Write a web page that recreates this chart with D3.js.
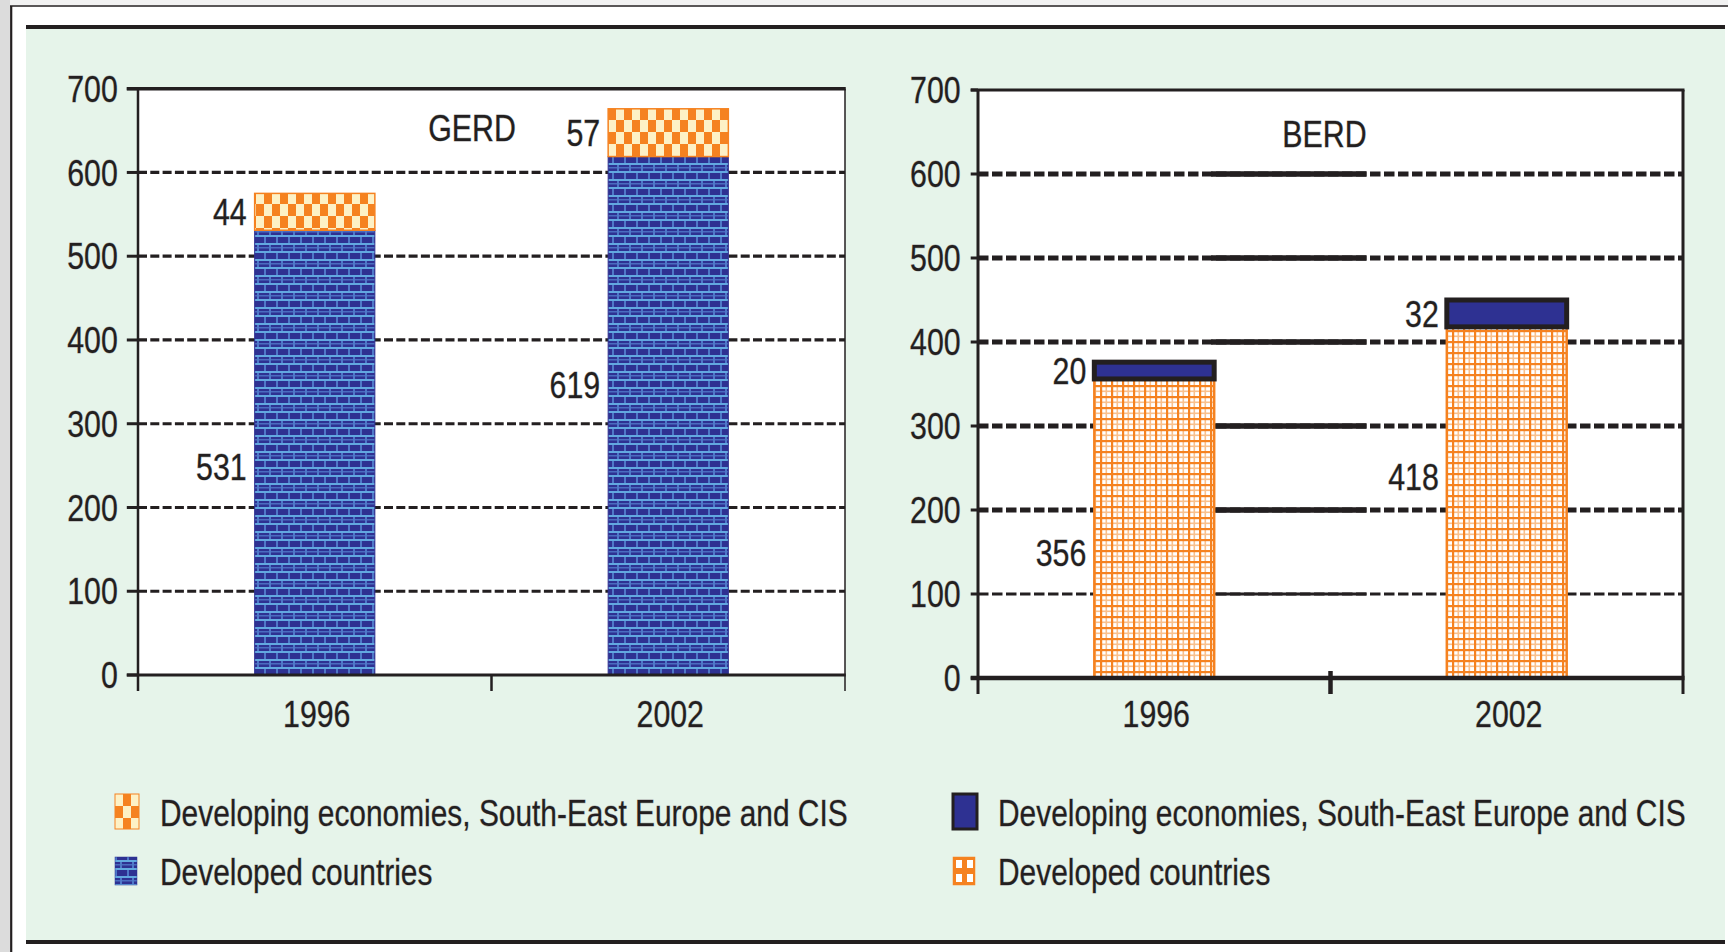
<!DOCTYPE html>
<html>
<head>
<meta charset="utf-8">
<script src="https://cdn.jsdelivr.net/npm/d3@7/dist/d3.min.js"></script>
<style>
  html, body { margin: 0; padding: 0; background: #ffffff; }
  svg { display: block; }
  text { font-family: "Liberation Sans", Arial, sans-serif; fill: #231f20; stroke: #a8a8a8; stroke-width: 0.8; paint-order: stroke; }
</style>
</head>
<body>
<svg id="chart" width="1728" height="952"></svg>
<script>
// ---------------- data ----------------
const categories = ["1996", "2002"];
const gerdDeveloped = [531, 619];
const gerdDeveloping = [44, 57];
const berdDeveloped = [356, 418];
const berdDeveloping = [20, 32];
const yTickValues = [0, 100, 200, 300, 400, 500, 600, 700];
const panelTitles = ["GERD", "BERD"];
const legendLabels = ["Developing economies, South-East Europe and CIS", "Developed countries"];

// label anchors for the developed-countries values (in data units)
const gerdDevLabelAt = [249, 346];
const berdDevLabelAt = [149, 240];

// ---------------- layout ----------------
const W = 1728, H = 952;
const SX = 0.82;       // narrow-font emulation
const FS = 37;
const INK = "#231f20";
const NAVY = "#2e3192";
const ORANGE = "#f58220";

const svg = d3.select("#chart");

// patterns
const defs = svg.append("defs");
// brick pattern (GERD developed)
const pb = defs.append("pattern").attr("id", "brick").attr("patternUnits", "userSpaceOnUse")
  .attr("width", 12).attr("height", 16);
pb.append("rect").attr("width", 12).attr("height", 16).attr("fill", NAVY);
pb.append("rect").attr("x", 0).attr("y", 3).attr("width", 12).attr("height", 2).attr("fill", "#62a8e0");
pb.append("rect").attr("x", 0).attr("y", 11).attr("width", 12).attr("height", 2).attr("fill", "#62a8e0");
pb.append("rect").attr("x", 0).attr("y", 7).attr("width", 12).attr("height", 1.5).attr("fill", "#4a6cc0");
pb.append("rect").attr("x", 5).attr("y", 5).attr("width", 2).attr("height", 6).attr("fill", "#4f78c8");
pb.append("rect").attr("x", 0).attr("y", 13).attr("width", 2).attr("height", 3).attr("fill", "#4f78c8");
pb.append("rect").attr("x", 0).attr("y", 0).attr("width", 2).attr("height", 3).attr("fill", "#4f78c8");
// checker pattern (GERD developing)
const pc = defs.append("pattern").attr("id", "checker").attr("patternUnits", "userSpaceOnUse")
  .attr("width", 16).attr("height", 24);
pc.append("rect").attr("width", 16).attr("height", 24).attr("fill", ORANGE);
pc.append("rect").attr("x", 0).attr("y", 0).attr("width", 8).attr("height", 12).attr("fill", "#fdf1c6");
pc.append("rect").attr("x", 8).attr("y", 12).attr("width", 8).attr("height", 12).attr("fill", "#fdf1c6");
// orange grid pattern (BERD developed)
const pg = defs.append("pattern").attr("id", "ogrid").attr("patternUnits", "userSpaceOnUse")
  .attr("width", 22).attr("height", 22);
pg.append("rect").attr("width", 22).attr("height", 22).attr("fill", "#ffffff");
pg.append("rect").attr("x", 5.5).attr("y", 0).attr("width", 1.6).attr("height", 22).attr("fill", "#f9c08c");
pg.append("rect").attr("x", 16.5).attr("y", 0).attr("width", 1.6).attr("height", 22).attr("fill", "#f9c08c");
pg.append("rect").attr("x", 0).attr("y", 5.5).attr("width", 22).attr("height", 1.6).attr("fill", "#f9c08c");
pg.append("rect").attr("x", 0).attr("y", 16.5).attr("width", 22).attr("height", 1.6).attr("fill", "#f9c08c");
pg.append("rect").attr("x", 0).attr("y", 0).attr("width", 2.2).attr("height", 22).attr("fill", ORANGE);
pg.append("rect").attr("x", 11).attr("y", 0).attr("width", 2.2).attr("height", 22).attr("fill", ORANGE);
pg.append("rect").attr("x", 0).attr("y", 0).attr("width", 22).attr("height", 2.2).attr("fill", ORANGE);
pg.append("rect").attr("x", 0).attr("y", 11).attr("width", 22).attr("height", 2.2).attr("fill", ORANGE);
// small orange/white legend pattern
const pl = defs.append("pattern").attr("id", "olegend").attr("patternUnits", "userSpaceOnUse")
  .attr("width", 11).attr("height", 14);
pl.append("rect").attr("width", 11).attr("height", 14).attr("fill", ORANGE);
pl.append("rect").attr("x", 3).attr("y", 3).attr("width", 6).attr("height", 8).attr("fill", "#ffffff");

// ---------------- page frame ----------------
svg.append("rect").attr("width", W).attr("height", H).attr("fill", "#ffffff");
svg.append("rect").attr("x", 0).attr("y", 0).attr("width", W).attr("height", 5).attr("fill", "#f2f2f2");
svg.append("rect").attr("x", 0).attr("y", 0).attr("width", 10).attr("height", H).attr("fill", "#dcdcdc");
svg.append("line").attr("x1", 10).attr("x2", W).attr("y1", 6).attr("y2", 6).attr("stroke", INK).attr("stroke-width", 1.6);
svg.append("line").attr("x1", 11.2).attr("x2", 11.2).attr("y1", 6).attr("y2", H).attr("stroke", INK).attr("stroke-width", 2.2);
svg.append("rect").attr("x", 26).attr("y", 27).attr("width", 1699).attr("height", 915).attr("fill", "#e6f4ea");
svg.append("line").attr("x1", 26).attr("x2", 1725).attr("y1", 27).attr("y2", 27).attr("stroke", INK).attr("stroke-width", 4);
svg.append("line").attr("x1", 26).attr("x2", 1725).attr("y1", 942).attr("y2", 942).attr("stroke", INK).attr("stroke-width", 4);

function txt(g, x, y, s, anchor, size, sx) {
  return g.append("text")
    .attr("transform", `translate(${x},${y}) scale(${sx || SX},1)`)
    .attr("text-anchor", anchor)
    .attr("font-size", size || FS)
    .text(s);
}

// ---------------- panels ----------------
const panels = [
  {
    title: panelTitles[0], developed: gerdDeveloped, developing: gerdDeveloping, devLabelAt: gerdDevLabelAt,
    x0: 138, x1: 845, y0: 675, y1: 88.7, titleX: 472, titleY: 140.5,
    devFill: "url(#brick)", devStroke: NAVY, devStrokeW: 1,
    dvgFill: "url(#checker)", dvgStroke: ORANGE, dvgStrokeW: 1.5,
    gridW: d => 3.2, dash: "9,3.3", solidSeg: false,
    tickLabelRight: 117.8, tickLeft: 126.8, axisW: 2.5, bottomW: 3, topW: 3.5, rightW: 1.5, midTickW: 2.5, midTickTop: 675,
    legendX: 115, legendTextX: 160,
    legendSw: ["url(#checker)", "url(#brick)"], legendSwStroke: [ORANGE, NAVY], legendSwStrokeW: [1, 0.5]
  },
  {
    title: panelTitles[1], developed: berdDeveloped, developing: berdDeveloping, devLabelAt: berdDevLabelAt,
    x0: 978, x1: 1683, y0: 678, y1: 90, titleX: 1324.5, titleY: 146.5,
    devFill: "url(#ogrid)", devStroke: ORANGE, devStrokeW: 2.5,
    dvgFill: NAVY, dvgStroke: INK, dvgStrokeW: 5,
    gridW: d => (d === 100 ? 3 : 5), dash: "10.5,3.5", solidSeg: true,
    tickLabelRight: 960.7, tickLeft: 970.7, axisW: 3, bottomW: 4.5, topW: 3, rightW: 3, midTickW: 4.5, midTickTop: 671,
    legendX: 953, legendTextX: 998,
    legendSw: [NAVY, "url(#olegend)"], legendSwStroke: [INK, ORANGE], legendSwStrokeW: [3, 0.5]
  }
];

panels.forEach(p => {
  const g = svg.append("g");
  const y = d3.scaleLinear().domain([0, 700]).range([p.y0, p.y1]);
  const x = d3.scaleBand().domain(categories).range([p.x0, p.x1]).paddingInner(0.66).paddingOuter(0.33);
  const step = x.step();
  const bw = x.bandwidth();

  // plot background
  g.append("rect").attr("x", p.x0).attr("y", y(700)).attr("width", p.x1 - p.x0).attr("height", y(0) - y(700))
    .attr("fill", "#ffffff");

  // gridlines (dashed)
  const grid = yTickValues.filter(v => v > 0 && v < 700);
  g.selectAll(".grid").data(grid).enter().append("line")
    .attr("x1", p.x0).attr("x2", p.x1)
    .attr("y1", d => y(d)).attr("y2", d => y(d))
    .attr("stroke", INK).attr("stroke-width", d => p.gridW(d))
    .attr("stroke-dasharray", p.dash);

  // BERD solid gridline segments between the bars
  if (p.solidSeg) {
    const sx1 = x(categories[0]) + bw - 3;
    const sx2 = p.x0 + step + 36;
    g.selectAll(".seg").data(grid).enter().append("line")
      .attr("x1", sx1).attr("x2", sx2)
      .attr("y1", d => y(d)).attr("y2", d => y(d))
      .attr("stroke", INK).attr("stroke-width", d => p.gridW(d) + (d === 100 ? 0 : 0.6));
  }

  // stacked bars
  const stackRows = categories.map((c, i) => ({ cat: c, dev: p.developed[i], dvg: p.developing[i] }));
  const stack = d3.stack().keys(["dev", "dvg"])(stackRows);
  const fills = { dev: p.devFill, dvg: p.dvgFill };
  const strokes = { dev: p.devStroke, dvg: p.dvgStroke };
  const strokeWs = { dev: p.devStrokeW, dvg: p.dvgStrokeW };
  stack.forEach(layer => {
    g.selectAll(".bar-" + layer.key).data(layer).enter().append("rect")
      .attr("x", d => x(d.data.cat))
      .attr("y", d => y(d[1]))
      .attr("width", bw)
      .attr("height", d => y(d[0]) - y(d[1]))
      .attr("fill", fills[layer.key])
      .attr("stroke", strokes[layer.key])
      .attr("stroke-width", strokeWs[layer.key]);
  });

  // frame: top, right
  g.append("line").attr("x1", p.tickLeft).attr("x2", p.x1 + p.rightW / 2).attr("y1", y(700)).attr("y2", y(700))
    .attr("stroke", INK).attr("stroke-width", p.topW);
  g.append("line").attr("x1", p.x1).attr("x2", p.x1).attr("y1", y(700)).attr("y2", y(0) + 16)
    .attr("stroke", INK).attr("stroke-width", p.rightW);

  // y axis line and ticks
  g.append("line").attr("x1", p.x0).attr("x2", p.x0).attr("y1", y(700)).attr("y2", y(0) + 16)
    .attr("stroke", INK).attr("stroke-width", p.axisW);
  g.selectAll(".ytick").data(yTickValues).enter().append("line")
    .attr("x1", p.tickLeft).attr("x2", p.x0)
    .attr("y1", d => y(d)).attr("y2", d => y(d))
    .attr("stroke", INK).attr("stroke-width", 3);
  yTickValues.forEach(v => txt(g, p.tickLabelRight, y(v) + 13.2, String(v), "end"));

  // x axis line and category boundary ticks
  g.append("line").attr("x1", p.tickLeft).attr("x2", p.x1 + p.rightW / 2).attr("y1", y(0)).attr("y2", y(0))
    .attr("stroke", INK).attr("stroke-width", p.bottomW);
  g.append("line").attr("x1", p.x0 + step).attr("x2", p.x0 + step).attr("y1", p.midTickTop).attr("y2", y(0) + 16)
    .attr("stroke", INK).attr("stroke-width", p.midTickW);
  categories.forEach(c => txt(g, x(c) + bw / 2 + 2, 727, c, "middle"));

  // title
  txt(g, p.titleX, p.titleY, p.title, "middle");

  // value labels
  stackRows.forEach((r, i) => {
    const lx = x(r.cat) - 8;
    txt(g, lx, y(r.dev + r.dvg / 2) + 13.2, String(r.dvg), "end");
    txt(g, lx, y(p.devLabelAt[i]) + 13.2, String(r.dev), "end");
  });

  // legend
  const rows = [{ y: 794, h: 35, w: 24, base: 826 }, { y: 857, h: 28, w: 22, base: 885 }];
  legendLabels.forEach((lab, i) => {
    const sg = g.append("g").attr("transform", `translate(${p.legendX},${rows[i].y})`);
    sg.append("rect").attr("x", 0).attr("y", 0).attr("width", rows[i].w).attr("height", rows[i].h)
      .attr("fill", p.legendSw[i]).attr("stroke", p.legendSwStroke[i]).attr("stroke-width", p.legendSwStrokeW[i]);
    txt(g, p.legendTextX, rows[i].base, lab, "start", FS, SX * 0.985);
  });
});
</script>
</body>
</html>
